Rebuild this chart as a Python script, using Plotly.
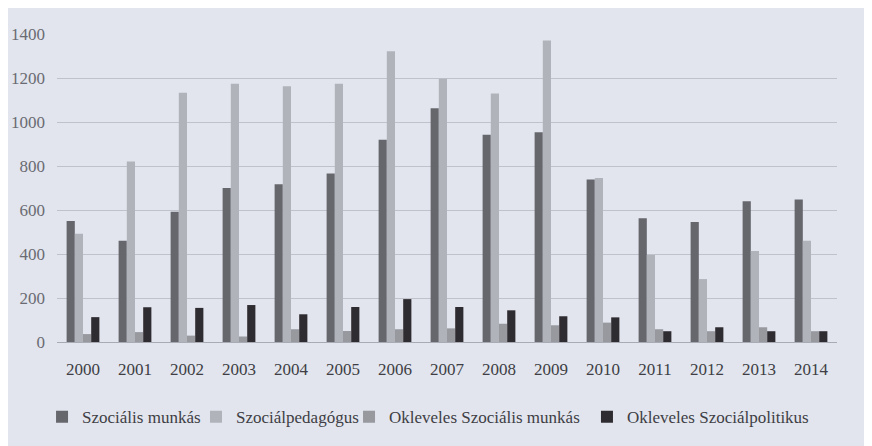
import plotly.graph_objects as go

years = [str(y) for y in range(2000, 2015)]
szocialis_munkas = [550, 460, 592, 700, 717, 766, 919, 1063, 942, 953, 739, 562, 545, 640, 648]
szocialpedagogus = [492, 820, 1133, 1174, 1163, 1174, 1322, 1197, 1129, 1371, 745, 395, 286, 414, 460]
okleveles_szm = [36, 45, 29, 25, 58, 50, 58, 62, 83, 76, 88, 58, 49, 67, 49]
okleveles_szp = [113, 158, 155, 168, 126, 159, 195, 159, 144, 117, 112, 49, 67, 49, 49]

series = [
    ("Szociális munkás", szocialis_munkas, "#66676d"),
    ("Szociálpedagógus", szocialpedagogus, "#b1b3ba"),
    ("Okleveles Szociális munkás", okleveles_szm, "#97999f"),
    ("Okleveles Szociálpolitikus", okleveles_szp, "#2f2c31"),
]
legend_ids = ["legend", "legend2", "legend3", "legend4"]
legend_x = [0.0394, 0.2176, 0.3947, 0.6701]

FONT = "Times New Roman"

fig = go.Figure()
for (name, vals, col), lid in zip(series, legend_ids):
    fig.add_trace(go.Bar(x=years, y=vals, name=name, marker_color=col,
                         marker_line_width=0, legend=lid, showlegend=True))

legend_common = dict(orientation="h", xref="container", xanchor="left",
                     y=-0.186, yanchor="top",
                     font=dict(family=FONT, size=17, color="#3e3e44"), itemwidth=30,
                     bgcolor="rgba(0,0,0,0)")
legends = {}
for lid, lx in zip(legend_ids, legend_x):
    legends[lid] = dict(legend_common, x=lx)

fig.update_layout(
    width=864, height=438,
    showlegend=True,
    paper_bgcolor="#e2e5ee", plot_bgcolor="#e2e5ee",
    margin=dict(l=49, r=35, t=26, b=104, autoexpand=False),
    barmode="group", bargap=0.37, bargroupgap=0,
    font=dict(family=FONT, color="#4a4a50"),
    yaxis=dict(range=[0, 1400], dtick=200, gridcolor="#bfc2cb", gridwidth=1,
               tickfont=dict(family=FONT, size=17, color="#6a6b72"), ticks="",
               zeroline=False, showline=False, automargin=False, ticklabelstandoff=11),
    xaxis=dict(tickfont=dict(family=FONT, size=17, color="#3e3e44"), showline=True,
               linecolor="#a8abb3", linewidth=1, ticks="", automargin=False,
               ticklabelstandoff=12),
    **legends,
)
fig.write_html("out.html")
